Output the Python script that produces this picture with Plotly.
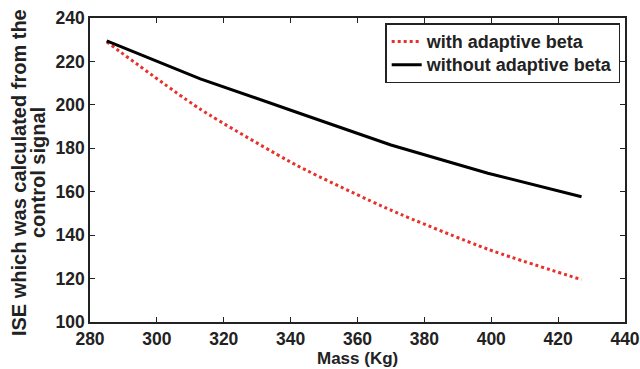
import plotly.graph_objects as go

mass = [285, 313, 342, 370, 399, 427]
ise_adaptive = [229, 198, 172, 151.5, 133.5, 119.5]
ise_fixed = [229.5, 212, 196.5, 181.5, 168.5, 157.7]
x_ticks = [280, 300, 320, 340, 360, 380, 400, 420, 440]
y_ticks = [100, 120, 140, 160, 180, 200, 220, 240]
y_title_lines = ["ISE which was calculated from the", "control signal"]
x_title = "Mass (Kg)"
series_names = ["with adaptive beta", "without adaptive beta"]

FONT = "Liberation Sans"
INK = "#222"

L, R, T, B = 90, 15, 18, 47
W, H = 640, 369
PW = W - L - R
PH = H - T - B


def legend_label(s):
    return f'<span style="font-size:18px"><b>{s}</b></span>'


fig = go.Figure()
fig.add_trace(go.Scatter(x=mass, y=ise_adaptive, mode="lines", name=legend_label(series_names[0]),
                         line=dict(color="#e8312a", width=3, dash="dot", shape="spline", smoothing=0.6)))
fig.add_trace(go.Scatter(x=mass, y=ise_fixed, mode="lines", name=legend_label(series_names[1]),
                         line=dict(color="black", width=3)))

axis_common = dict(showgrid=False, zeroline=False, showline=True, linecolor=INK, linewidth=1.5,
                   mirror="ticks", ticks="inside", ticklen=5, tickcolor=INK, tickwidth=1,
                   automargin=False,
                   tickfont=dict(family=FONT, size=17.5, color=INK))

fig.update_xaxes(range=[280, 440], tickvals=x_ticks, ticktext=[f"<b>{v}</b>" for v in x_ticks],
                 **axis_common)
fig.update_yaxes(range=[100, 240], tickvals=y_ticks, ticktext=[f"<b>{v}</b>" for v in y_ticks],
                 **axis_common)

# two-line y-axis title with tight line spacing
for px, txt in zip([19, 38], y_title_lines):
    fig.add_annotation(text=f"<b>{txt}</b>", textangle=-90, showarrow=False,
                       xref="paper", yref="paper", x=(px - L) / PW, y=0.49,
                       xanchor="center", yanchor="middle",
                       font=dict(family=FONT, size=20, color=INK))

fig.add_annotation(text=f"<b>{x_title}</b>", showarrow=False,
                   xref="paper", yref="paper", x=0.5, y=(H - B - 358) / PH,
                   xanchor="center", yanchor="middle",
                   font=dict(family=FONT, size=17, color=INK))

fig.update_layout(
    width=W, height=H,
    margin=dict(l=L, r=R, t=T, b=B),
    plot_bgcolor="white", paper_bgcolor="white",
    font=dict(family=FONT, color=INK),
    legend=dict(x=0.991, y=0.982, xanchor="right", yanchor="top",
                bordercolor=INK, borderwidth=1.5, bgcolor="white",
                font=dict(family=FONT, size=15.5, color=INK),
                tracegroupgap=0, itemwidth=30),
    showlegend=True,
)

fig.write_html("out.html", config={"displayModeBar": False},
               post_script="document.body.style.margin='0';document.body.style.overflow='hidden';")
